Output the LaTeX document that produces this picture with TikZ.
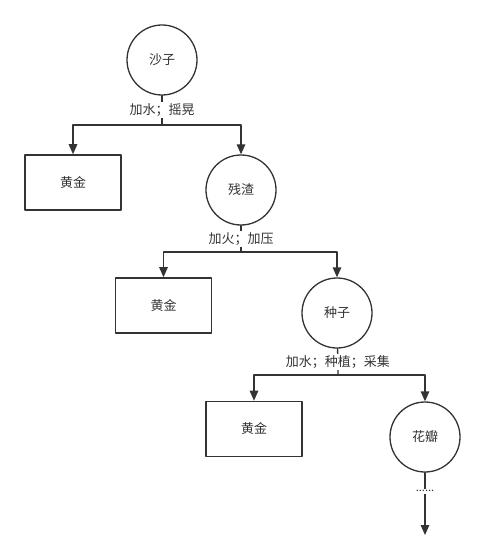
\documentclass[tikz,border=0pt]{standalone}
\usepackage{fontspec}
\setmainfont{Noto Sans CJK SC}
\usetikzlibrary{arrows.meta}
\definecolor{ink}{HTML}{333333}

\begin{document}
\begin{tikzpicture}[x=1pt, y=-1pt, line cap=round, line join=round,
  ball/.style={draw=ink, line width=1.3pt, circle, minimum size=70pt, inner sep=0pt, text=ink},
  gold/.style={draw=ink, line width=1.6pt, rectangle, minimum width=96pt, minimum height=55pt, text=ink},
  wire/.style={draw=ink, line width=1.3pt},
  arr/.style={wire, -{Triangle[length=10pt,width=8.5pt]}},
  lbl/.style={fill=white, inner sep=1.5pt, text=ink}]

\useasboundingbox (0,0) rectangle (485,556);
\fontsize{13}{15}\selectfont

% first step
\node[ball] (sand) at (162,60) {沙子};
\node[gold] (gold1) at (73,182.5) {黄金};
\node[ball] (residue) at (241,190) {残渣};
\coordinate (fork1) at (162,125);

\draw[wire] (sand) -- node[lbl] {加水；摇晃} (fork1);
\draw[arr] (fork1) -| (gold1.north);
\draw[arr] (fork1) -| (residue.north);

% second step
\node[gold] (gold2) at (163.5,305.5) {黄金};
\node[ball] (seed) at (337,313) {种子};
\coordinate (fork2) at (241,252);

\draw[wire] (residue) -- node[lbl] {加火；加压} (fork2);
\draw[arr] (fork2) -| (gold2.north);
\draw[arr] (fork2) -| (seed.north);

% third step
\node[gold] (gold3) at (254,429) {黄金};
\node[ball] (petal) at (425,437) {花瓣};
\coordinate (fork3) at (338,375);

\draw[wire] (seed) -- node[lbl] {加水；种植；采集} (fork3);
\draw[arr] (fork3) -| (gold3.north);
\draw[arr] (fork3) -| (petal.north);

% and so on
\coordinate (tail) at (425,535);
\draw[arr] (petal) -- node[lbl, pos=0.3, font=\fontsize{11}{12}\selectfont] {......} (tail);

\end{tikzpicture}
\end{document}
